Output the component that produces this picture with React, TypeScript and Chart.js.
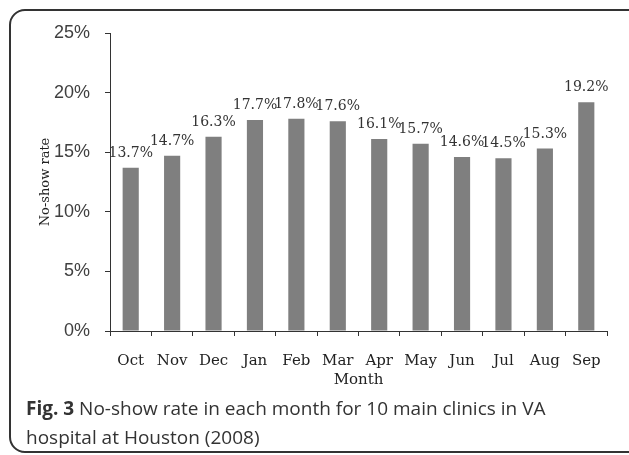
import React, { useEffect, useRef } from "react";
import { Chart, registerables } from "chart.js";

Chart.register(...registerables);

const months = ["Oct", "Nov", "Dec", "Jan", "Feb", "Mar", "Apr", "May", "Jun", "Jul", "Aug", "Sep"];
const noShowRates = [13.7, 14.7, 16.3, 17.7, 17.8, 17.6, 16.1, 15.7, 14.6, 14.5, 15.3, 19.2];
const yTicks = [0, 5, 10, 15, 20, 25];

const valueLabels = {
  id: "valueLabels",
  afterDatasetsDraw(chart: any) {
    const { ctx } = chart;
    const meta = chart.getDatasetMeta(0);
    ctx.save();
    ctx.font = '14px "DejaVu Serif"';
    ctx.fillStyle = "#333333";
    ctx.textAlign = "center";
    ctx.textBaseline = "alphabetic";
    meta.data.forEach((bar: any, i: number) => {
      ctx.fillText(noShowRates[i].toFixed(1) + "%", bar.x, bar.y - 11);
    });
    ctx.restore();
  },
};

export default function App() {
  const ref = useRef<HTMLCanvasElement>(null);
  useEffect(() => {
    if (!ref.current) return;
    const chart = new Chart(ref.current, {
      type: "bar",
      data: {
        labels: months,
        datasets: [
          {
            data: noShowRates,
            backgroundColor: "#7f7f7f",
            borderWidth: 0,
            barPercentage: 0.39,
            categoryPercentage: 1,
          },
        ],
      },
      options: {
        responsive: false,
        animation: false,
        events: [],
        layout: { padding: { top: 33, right: 22, bottom: 11, left: 0 } },
        plugins: { legend: { display: false }, tooltip: { enabled: false } },
        scales: {
          x: {
            grid: {
              offset: true,
              drawOnChartArea: false,
              drawTicks: true,
              tickLength: 5,
              color: "#333333",
            },
            border: { display: true, color: "#333333", width: 1 },
            ticks: {
              font: { family: "DejaVu Serif", size: 15 },
              color: "#222222",
              padding: 16,
              maxRotation: 0,
              autoSkip: false,
            },
            title: {
              display: true,
              text: "Month",
              font: { family: "DejaVu Serif", size: 15 },
              color: "#222222",
              padding: { top: 0, bottom: 0 },
            },
            afterFit(scale: any) {
              scale.height = 58;
            },
          },
          y: {
            min: 0,
            max: 25,
            afterBuildTicks(scale: any) {
              scale.ticks = yTicks.map((v) => ({ value: v }));
            },
            grid: {
              drawOnChartArea: false,
              drawTicks: true,
              tickLength: 5,
              color: "#333333",
            },
            border: { display: true, color: "#333333", width: 1 },
            ticks: {
              font: { family: "Liberation Sans", size: 18 },
              color: "#404040",
              padding: 15,
              callback: (v: any) => v + "%",
            },
            title: {
              display: true,
              text: "No-show rate",
              font: { family: "DejaVu Serif", size: 13 },
              color: "#222222",
              padding: { top: 38, bottom: 0 },
            },
            afterFit(scale: any) {
              scale.width = 110;
            },
          },
        },
      },
      plugins: [valueLabels],
    });
    return () => chart.destroy();
  }, []);

  return (
    <div style={{ position: "absolute", left: 0, top: 0, width: 629, height: 455, overflow: "hidden", background: "#fff" }}>
      <div
        style={{
          position: "absolute",
          left: 9,
          top: 9,
          width: 640,
          height: 444,
          border: "2px solid #333",
          borderRadius: 16,
          boxSizing: "border-box",
        }}
      />
      <canvas ref={ref} width={629} height={400} style={{ position: "absolute", left: 0, top: 0, width: 629, height: 400 }} />
      <div
        style={{
          position: "absolute",
          left: 26,
          top: 394,
          width: 590,
          fontFamily: '"Open Sans"',
          fontSize: 19,
          lineHeight: "29px",
          color: "#333",
          whiteSpace: "nowrap",
        }}
      >
        <b>Fig. 3</b> No-show rate in each month for 10 main clinics in VA
        <br />
        hospital at Houston (2008)
      </div>
    </div>
  );
}
